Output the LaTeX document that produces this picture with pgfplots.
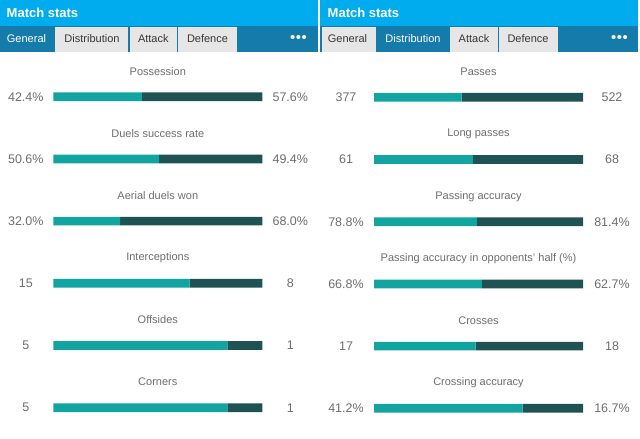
\documentclass[border=0pt]{standalone}
\usepackage{fontspec}
\setmainfont{Liberation Sans}
\usepackage{pgfplots}
\pgfplotsset{compat=1.18}
\usepackage{pgfplotstable}
\definecolor{hdr}{RGB}{0,172,237}
\definecolor{tabbar}{RGB}{21,123,170}
\definecolor{tabgray}{RGB}{230,230,230}
\definecolor{tabtext}{RGB}{55,55,55}
\definecolor{teal1}{RGB}{18,164,160}
\definecolor{dark1}{RGB}{31,82,82}
\definecolor{txtgray}{RGB}{110,110,110}

\pgfplotstableread{
idx a b
1 42.4 57.6
2 50.6 49.4
3 32.0 68.0
4 15 8
5 5 1
6 5 1
}\generaltab
\pgfplotstableread{
idx a b
1 377 522
2 61 68
3 78.8 81.4
4 66.8 62.7
5 17 18
6 41.2 16.7
}\distribtab

\pgfplotsset{statax/.style={xbar stacked, scale only axis, width=209pt, height=373.2pt,
  xmin=0, xmax=1, ymin=0.5, ymax=6.5, y dir=reverse, hide axis, bar width=8.7pt,
  anchor=north west, clip=false}}
\tikzset{ttl/.style={text=txtgray, font=\fontsize{11}{13}\selectfont, yshift=25.5pt, inner sep=0pt},
  val/.style={text=txtgray, font=\fontsize{12.5}{14}\selectfont, inner sep=0pt},
  tabt/.style={text=tabtext, font=\fontsize{11}{13}\selectfont, inner sep=0pt},
  taba/.style={text=white, font=\fontsize{11}{13}\selectfont, inner sep=0pt},
  dots/.style={text=white, font=\fontsize{15}{16}\selectfont, inner sep=0pt},
  hdrt/.style={text=white, font=\bfseries\fontsize{13}{15}\selectfont, inner sep=0pt, anchor=west}}

\begin{document}
\begin{tikzpicture}
\begin{scope}[x=1pt,y=-1pt]
\fill[white] (0,0) rectangle (640,439);
% left panel header
\fill[hdr] (0,0) rectangle (318.3,25.5);
\fill[tabbar] (0,25.5) rectangle (318.3,52);
\fill[tabgray] (55,26.5) rectangle (128.3,52);
\fill[tabgray] (130,26.5) rectangle (176.7,52);
\fill[tabgray] (178.3,26.5) rectangle (237,52);
\node[hdrt] at (6.5,12.8) {Match stats};
\node[taba] at (26.5,38.8) {General};
\node[tabt] at (92,38.8) {Distribution};
\node[tabt] at (153.3,38.8) {Attack};
\node[tabt] at (207.5,38.8) {Defence};
\node[dots] at (298.5,38.5) {\textbullet\hspace{0.5pt}\textbullet\hspace{0.5pt}\textbullet};
% right panel header
\fill[hdr] (320.3,0) rectangle (638,25.5);
\fill[tabbar] (320.3,25.5) rectangle (638,52);
\fill[tabgray] (321.5,26.5) rectangle (376.3,52);
\fill[tabgray] (450,26.5) rectangle (497.7,52);
\fill[tabgray] (499.3,26.5) rectangle (557.7,52);
\node[hdrt] at (327.5,12.8) {Match stats};
\node[tabt] at (347.5,38.8) {General};
\node[taba] at (413,38.8) {Distribution};
\node[tabt] at (474,38.8) {Attack};
\node[tabt] at (528,38.8) {Defence};
\node[dots] at (619.5,38.5) {\textbullet\hspace{0.5pt}\textbullet\hspace{0.5pt}\textbullet};
\end{scope}

\begin{axis}[statax, at={(53.3pt,-65.6pt)}]
\addplot[fill=teal1, draw=none] table[y=idx, x expr={\thisrow{a}/(\thisrow{a}+\thisrow{b})}] {\generaltab};
\addplot[fill=dark1, draw=none] table[y=idx, x expr={\thisrow{b}/(\thisrow{a}+\thisrow{b})}] {\generaltab};
\node[ttl] at (axis cs:0.5,1) {Possession};
\node[ttl] at (axis cs:0.5,2) {Duels success rate};
\node[ttl] at (axis cs:0.5,3) {Aerial duels won};
\node[ttl] at (axis cs:0.5,4) {Interceptions};
\node[ttl] at (axis cs:0.5,5) {Offsides};
\node[ttl] at (axis cs:0.5,6) {Corners};
\node[val, xshift=-27.5pt] at (axis cs:0,1) {42.4\%};
\node[val, xshift=-27.5pt] at (axis cs:0,2) {50.6\%};
\node[val, xshift=-27.5pt] at (axis cs:0,3) {32.0\%};
\node[val, xshift=-27.5pt] at (axis cs:0,4) {15};
\node[val, xshift=-27.5pt] at (axis cs:0,5) {5};
\node[val, xshift=-27.5pt] at (axis cs:0,6) {5};
\node[val, xshift=28pt] at (axis cs:1,1) {57.6\%};
\node[val, xshift=28pt] at (axis cs:1,2) {49.4\%};
\node[val, xshift=28pt] at (axis cs:1,3) {68.0\%};
\node[val, xshift=28pt] at (axis cs:1,4) {8};
\node[val, xshift=28pt] at (axis cs:1,5) {1};
\node[val, xshift=28pt] at (axis cs:1,6) {1};
\end{axis}

\begin{axis}[statax, at={(374pt,-66.2pt)}]
\addplot[fill=teal1, draw=none] table[y=idx, x expr={\thisrow{a}/(\thisrow{a}+\thisrow{b})}] {\distribtab};
\addplot[fill=dark1, draw=none] table[y=idx, x expr={\thisrow{b}/(\thisrow{a}+\thisrow{b})}] {\distribtab};
\node[ttl] at (axis cs:0.5,1) {Passes};
\node[ttl] at (axis cs:0.5,2) {Long passes};
\node[ttl] at (axis cs:0.5,3) {Passing accuracy};
\node[ttl] at (axis cs:0.5,4) {Passing accuracy in opponents' half (\%)};
\node[ttl] at (axis cs:0.5,5) {Crosses};
\node[ttl] at (axis cs:0.5,6) {Crossing accuracy};
\node[val, xshift=-28pt] at (axis cs:0,1) {377};
\node[val, xshift=-28pt] at (axis cs:0,2) {61};
\node[val, xshift=-28pt] at (axis cs:0,3) {78.8\%};
\node[val, xshift=-28pt] at (axis cs:0,4) {66.8\%};
\node[val, xshift=-28pt] at (axis cs:0,5) {17};
\node[val, xshift=-28pt] at (axis cs:0,6) {41.2\%};
\node[val, xshift=29pt] at (axis cs:1,1) {522};
\node[val, xshift=29pt] at (axis cs:1,2) {68};
\node[val, xshift=29pt] at (axis cs:1,3) {81.4\%};
\node[val, xshift=29pt] at (axis cs:1,4) {62.7\%};
\node[val, xshift=29pt] at (axis cs:1,5) {18};
\node[val, xshift=29pt] at (axis cs:1,6) {16.7\%};
\end{axis}
\end{tikzpicture}
\end{document}
